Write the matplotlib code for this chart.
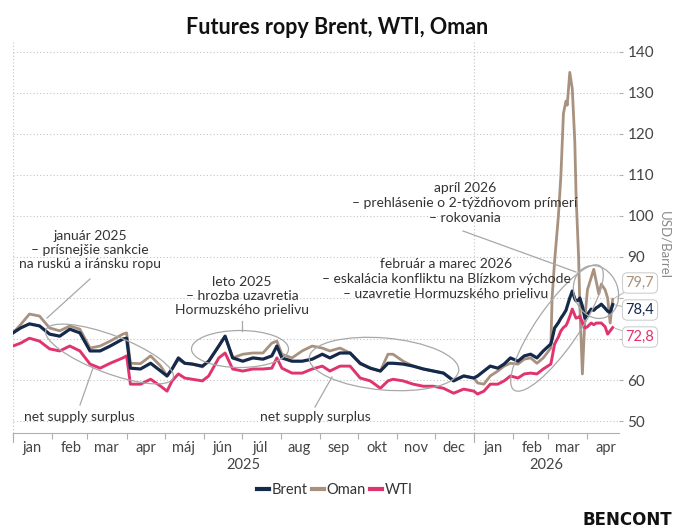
import numpy as np
import pandas as pd
import matplotlib
matplotlib.use('Agg')
import matplotlib.pyplot as plt
import matplotlib.dates as mdates
from matplotlib.patches import Ellipse
from matplotlib.ticker import FuncFormatter

W, H = 674, 531

# values (USD/barrel)
dates = [
    '2025-01-01', '2025-01-07', '2025-01-14', '2025-01-22', '2025-01-30', '2025-02-07',
    '2025-02-15', '2025-02-23', '2025-03-03', '2025-03-11', '2025-03-19', '2025-03-29',
    '2025-04-01', '2025-04-04', '2025-04-12', '2025-04-20', '2025-04-28', '2025-05-03',
    '2025-05-07', '2025-05-12', '2025-05-17', '2025-05-23', '2025-05-31', '2025-06-05',
    '2025-06-13', '2025-06-18', '2025-06-24', '2025-07-02', '2025-07-10', '2025-07-18',
    '2025-07-25', '2025-07-29', '2025-08-02', '2025-08-10', '2025-08-18', '2025-08-26',
    '2025-09-03', '2025-09-09', '2025-09-17', '2025-09-25', '2025-10-03', '2025-10-11',
    '2025-10-19', '2025-10-25', '2025-10-29', '2025-11-06', '2025-11-14', '2025-11-22',
    '2025-11-30', '2025-12-08', '2025-12-16', '2025-12-24', '2026-01-01', '2026-01-04',
    '2026-01-09', '2026-01-14', '2026-01-20', '2026-01-25', '2026-01-30', '2026-02-05',
    '2026-02-10', '2026-02-15', '2026-02-20', '2026-02-25', '2026-03-03', '2026-03-04',
    '2026-03-06', '2026-03-09', '2026-03-11', '2026-03-13', '2026-03-15', '2026-03-16',
    '2026-03-18', '2026-03-20', '2026-03-22', '2026-03-23', '2026-03-25', '2026-03-26',
    '2026-03-28', '2026-03-30', '2026-04-01', '2026-04-04', '2026-04-06', '2026-04-08',
    '2026-04-10', '2026-04-12', '2026-04-15', '2026-04-17', '2026-04-19', '2026-04-21',
]
brent = [
    71.5, 72.7, 73.7, 73.2, 71.2, 70.7,
    72.4, 71.5, 67.1, 67.1, 68.3, 70.0,
    70.2, 62.9, 62.7, 64.1, 62.2, 61.0,
    62.7, 65.4, 64.1, 63.9, 63.4, 64.6,
    68.3, 70.7, 65.4, 64.6, 65.4, 65.1,
    65.9, 68.3, 65.4, 64.6, 64.6, 65.1,
    66.3, 65.4, 66.6, 66.6, 64.1, 62.9,
    62.2, 64.1, 64.1, 63.9, 63.4, 62.7,
    62.2, 61.7, 59.8, 61.0, 60.5, 61.0,
    62.2, 63.4, 62.9, 63.9, 65.4, 64.6,
    65.9, 66.3, 65.4, 67.1, 68.8, 70.0,
    72.7, 74.0, 75.1, 76.0, 77.0, 78.0,
    80.0, 81.7, 79.8, 79.3, 79.5, 80.0,
    78.0, 75.1, 76.0, 77.3, 77.0, 77.6,
    78.0, 78.5, 77.5, 76.8, 76.5, 78.4,
]
oman = [
    71.5, 73.5, 76.1, 75.6, 72.7, 72.0,
    73.2, 72.4, 67.8, 68.3, 69.5, 71.2,
    71.5, 64.1, 64.0, 65.9, 63.4, 61.0,
    62.7, 65.0, 64.1, 63.9, 63.2, 64.6,
    68.3, 70.7, 65.4, 66.3, 66.6, 66.6,
    69.0, 69.5, 66.3, 65.4, 67.1, 68.3,
    67.8, 67.1, 67.8, 66.6, 63.9, 62.9,
    62.2, 66.3, 66.3, 64.6, 63.4, 62.7,
    62.2, 61.7, 60.0, 61.0, 60.5, 59.3,
    59.0, 61.0, 62.2, 63.4, 64.1, 63.9,
    65.1, 65.4, 64.1, 65.4, 67.8, 80.0,
    89.0, 100.0, 110.0, 125.0, 128.0, 127.0,
    135.0, 131.0, 118.0, 105.0, 90.0, 78.0,
    61.5, 75.0, 82.0, 85.0, 87.0, 84.0,
    81.0, 83.4, 82.0, 80.0, 73.9, 79.7,
]
wti = [
    68.3, 69.0, 70.2, 69.5, 67.6, 67.1,
    68.3, 67.1, 63.9, 62.9, 64.1, 65.4,
    65.9, 59.0, 59.0, 60.2, 58.5, 57.3,
    59.8, 61.5, 60.5, 60.2, 59.8, 61.0,
    65.4, 66.6, 62.7, 62.2, 62.7, 62.7,
    62.9, 65.4, 62.9, 61.7, 61.7, 62.7,
    63.4, 62.2, 63.4, 63.4, 60.5, 59.8,
    58.0, 59.8, 60.2, 59.8, 59.0, 58.5,
    58.5, 58.0, 56.8, 57.8, 57.3, 56.6,
    57.3, 59.0, 59.0, 59.8, 61.0, 60.5,
    61.5, 61.7, 61.5, 62.7, 63.9, 65.5,
    68.8, 70.5, 72.0, 72.8, 73.3, 73.9,
    75.5, 77.3, 75.8, 75.1, 75.3, 75.6,
    74.0, 72.7, 73.0, 73.9, 73.5, 73.9,
    73.9, 73.9, 73.0, 71.2, 72.0, 72.8,
]

month_names = ['jan', 'feb', 'mar', 'apr', 'máj', 'jún', 'júl', 'aug', 'sep', 'okt', 'nov', 'dec']
year_labels = ['2025', '2026']
y_ticks = [50, 60, 70, 80, 90, 100, 110, 120, 130, 140]
hidden_ticks = [70, 80]  # covered by the last-value boxes in the original

c_brent = '#15294b'
c_oman = '#a8927f'
c_wti = '#e0346e'
c_note = '#a8a8a8'
c_text = '#333333'
c_axis = '#b0b0b0'

plt.rcParams['font.family'] = ['Lato', 'DejaVu Sans']

fig = plt.figure(figsize=(W / 100, H / 100), dpi=100)
ax = fig.add_axes([13 / W, 1 - 433 / H, (619 - 13) / W, (433 - 42) / H])

x = pd.to_datetime(dates)
ax.plot(x, oman, color=c_oman, lw=2.0, label='Oman', zorder=2)
ax.plot(x, wti, color=c_wti, lw=2.1, label='WTI', zorder=3)
ax.plot(x, brent, color=c_brent, lw=2.3, label='Brent', zorder=4)

x0 = pd.Timestamp('2025-01-01')
x1 = pd.Timestamp('2026-04-26')
ax.set_xlim(x0, x1)
ax.set_ylim(47.1, 142.4)

# y axis on the right
ax.yaxis.tick_right()
ax.set_yticks(y_ticks)
ax.yaxis.set_major_formatter(FuncFormatter(lambda v, pos: '' if round(v) in hidden_ticks else f'{v:.0f}'))
ax.tick_params(axis='y', length=3, color=c_axis, labelsize=11, labelcolor='#444444', pad=3)
ax.yaxis.grid(True, linestyle=(0, (1, 2)), color='#c4c4c4', lw=0.8)

for s in ['top', 'left', 'right']:
    ax.spines[s].set_visible(False)
ax.spines['bottom'].set_color(c_axis)
ax.spines['bottom'].set_linewidth(0.8)

# months: ticks at month start, labels mid month
ax.xaxis.set_major_locator(mdates.MonthLocator())
ax.xaxis.set_major_formatter(FuncFormatter(lambda v, pos: ''))
ax.xaxis.set_minor_locator(mdates.MonthLocator(bymonthday=16))
ax.xaxis.set_minor_formatter(FuncFormatter(lambda v, pos: month_names[mdates.num2date(v).month - 1]))
ax.tick_params(axis='x', which='major', length=4, color=c_axis)
ax.tick_params(axis='x', which='minor', length=0, labelsize=10.5, labelcolor='#444444', pad=6)

# year separators
jan26 = pd.Timestamp('2026-01-01')
for ys in [x0, jan26]:
    ax.axvline(ys, color='#c4c4c4', lw=0.8, linestyle=(0, (1, 2)), zorder=1)
    ax.axvline(ys, ymin=-0.022, ymax=0, color=c_axis, lw=0.8, clip_on=False)

y_mid = [x0 + (jan26 - x0) / 2, jan26 + (x1 - jan26) / 2]
for xm, lab in zip(y_mid, year_labels):
    ax.text(xm, -0.082, lab, transform=ax.get_xaxis_transform(), ha='center', va='center',
            fontsize=10.5, color='#444444')

# last value boxes
last = [(oman[-1], c_oman, 283), (brent[-1], c_brent, 310), (wti[-1], c_wti, 337)]
for val, col, ypix in last:
    ax.annotate(f'{val:.1f}'.replace('.', ','), xy=(x[-1], val), xycoords='data',
                xytext=(640, H - ypix), textcoords='figure pixels', ha='center', va='center',
                fontsize=10.5, color=col,
                bbox=dict(boxstyle='round,pad=0.22,rounding_size=0.35', fc='white', ec='#cfcfcf', lw=0.8),
                arrowprops=dict(arrowstyle='-', color='#bdbdbd', lw=0.8, shrinkA=0, shrinkB=2),
                annotation_clip=False, zorder=6)

# overlay in image pixel coordinates for the notes
ov = fig.add_axes([0, 0, 1, 1], facecolor='none')
ov.set_xlim(0, W)
ov.set_ylim(H, 0)
ov.axis('off')

ellipses = [
    ((109.5, 354), 136, 38, 20.7),
    ((240, 349), 97, 37, 0),
    ((384, 364), 150, 52, 5),
    ((557, 328), 151, 42, -55.3),
    ((596, 292), 44, 54, -20),
]
for c, w, h, a in ellipses:
    ov.add_patch(Ellipse(c, w, h, angle=a, fill=False, ec=c_note, lw=0.9))

pointers = [
    ((90, 47), (279, 318)),
    ((80, 93), (405, 368)),
    ((242, 242), (321, 331)),
    ((315, 332), (407, 377)),
    ((463, 576), (231, 272)),
]
for px, py in pointers:
    ov.plot(px, py, color=c_note, lw=0.9)

notes = [
    ((90, 250), 'január 2025\n– prísnejšie sankcie\nna ruskú a iránsku ropu'),
    ((242, 296), 'leto 2025\n– hrozba uzavretia\nHormuzského prielivu'),
    ((79, 417), 'net supply surplus'),
    ((315, 417), 'net supply surplus'),
    ((446, 279), 'február a marec 2026\n– eskalácia konfliktu na Blízkom východe\n– uzavretie Hormuzského prielivu'),
    ((465, 203), 'apríl 2026\n– prehlásenie o 2-týždňovom prímerí\n– rokovania'),
]
for (tx, ty), txt in notes:
    ov.text(tx, ty, txt, ha='center', va='center', multialignment='center',
            fontsize=10, color=c_text, linespacing=1.25)

fig.text(337 / W, 1 - 27 / H, 'Futures ropy Brent, WTI, Oman', ha='center', va='center',
         fontsize=15.5, fontweight='bold', color='#111111')
fig.text(664 / W, 1 - 245 / H, 'USD/Barrel', rotation=270, ha='center', va='center',
         fontsize=9.5, color='#8a8a8a')
fig.text(627 / W, 1 - 520 / H, 'BENCONT', ha='center', va='center', fontsize=12,
         fontweight='bold', color='#111111', family='DejaVu Sans')

h_b, = ax.plot([], [], color=c_brent, lw=3)
h_o, = ax.plot([], [], color=c_oman, lw=3)
h_w, = ax.plot([], [], color=c_wti, lw=3)
fig.legend([h_b, h_o, h_w], ['Brent', 'Oman', 'WTI'], loc='center',
           bbox_to_anchor=(335 / W, 1 - 490 / H), ncol=3, frameon=False,
           handlelength=0.8, handletextpad=0.2, columnspacing=0.3, fontsize=10.5,
           labelcolor='#333333')

fig.savefig('out.png', dpi=100)
